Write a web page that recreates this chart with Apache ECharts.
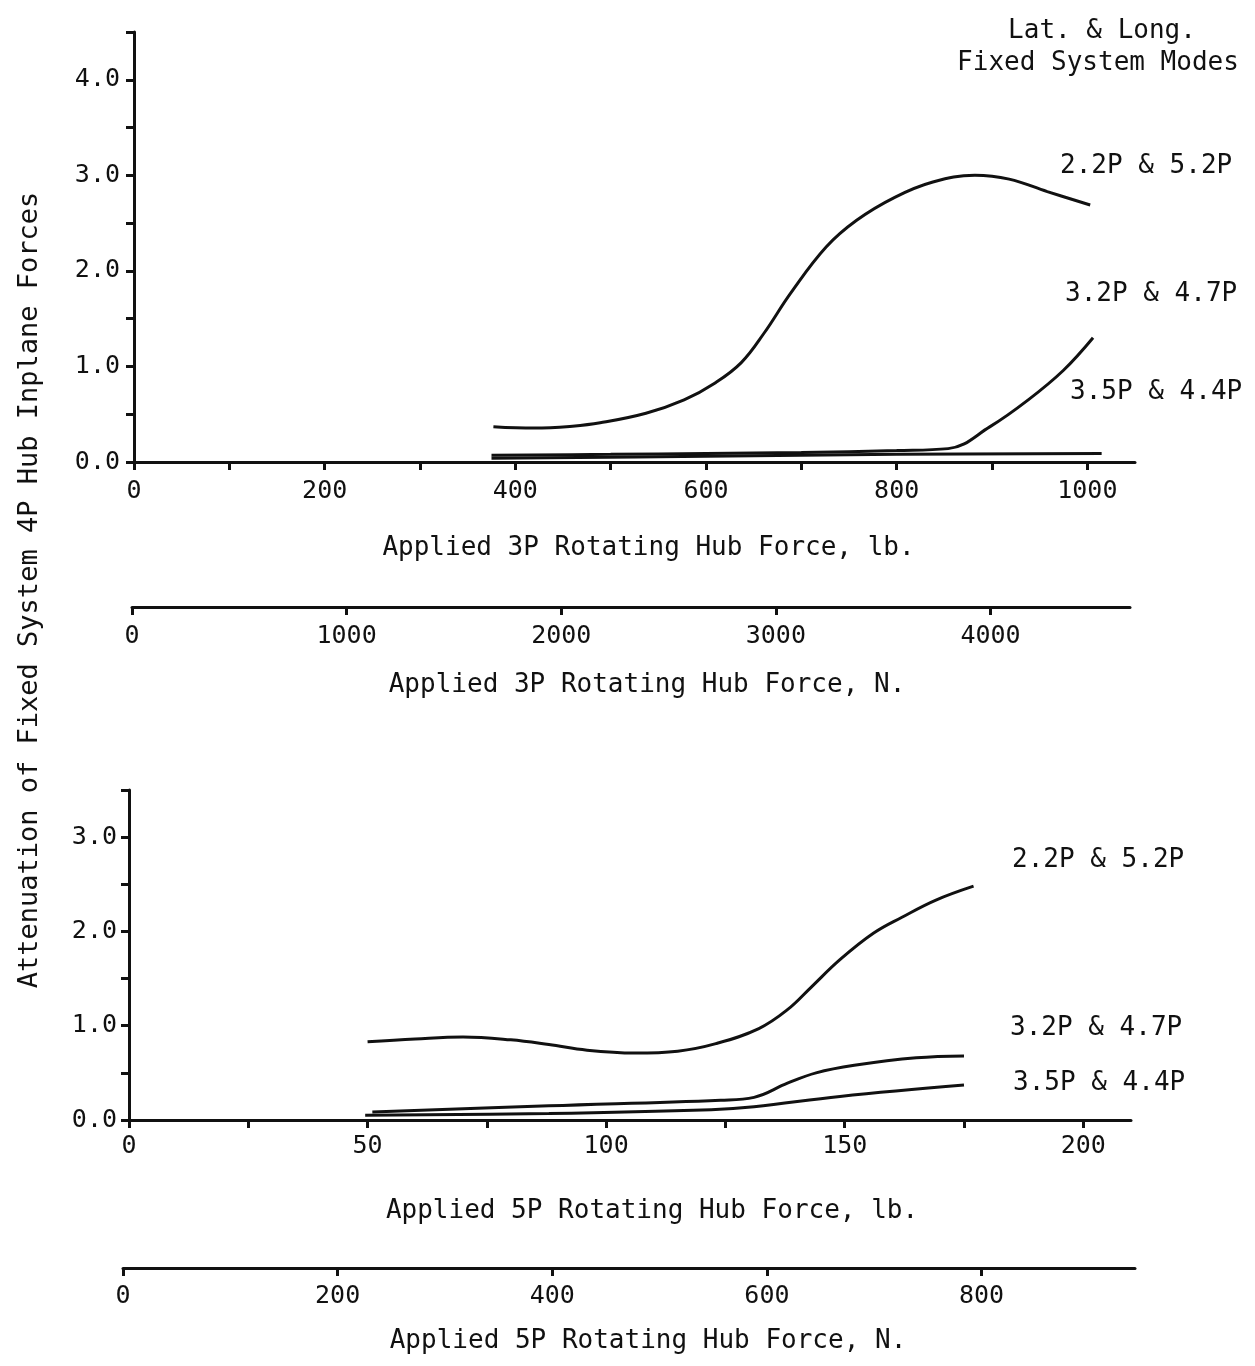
<!DOCTYPE html>
<html>
<head>
<meta charset="utf-8">
<title>Attenuation of fixed system 4P hub inplane forces</title>
<script src="https://cdn.jsdelivr.net/npm/echarts@6/dist/echarts.min.js"></script>
<style>
  html, body { margin: 0; padding: 0; background: #fff; }
  #chart { width: 1255px; height: 1366px; }
</style>
</head>
<body>
<div id="chart"></div>
<script>
// upper panel: applied 3P rotating hub force (lb) vs attenuation
var top22X = [377, 420, 460, 489, 537, 577, 610, 637, 661, 689, 726, 758, 798, 838, 882, 918, 958, 1003];
var top22Y = [0.37, 0.355, 0.375, 0.41, 0.51, 0.65, 0.83, 1.04, 1.35, 1.77, 2.25, 2.53, 2.77, 2.93, 3.00, 2.96, 2.83, 2.69];
var top32X = [375, 500, 600, 700, 800, 854, 898, 938, 975, 1006];
var top32Y = [0.07, 0.08, 0.09, 0.10, 0.12, 0.14, 0.37, 0.65, 0.96, 1.30];
var top35X = [375, 600, 800, 1015];
var top35Y = [0.04, 0.06, 0.08, 0.09];

// lower panel: applied 5P rotating hub force (lb)
var bot22X = [50, 60, 70, 80, 88, 96, 106, 115, 123, 132, 138, 143, 149, 156, 162, 169, 177];
var bot22Y = [0.83, 0.86, 0.88, 0.85, 0.80, 0.74, 0.71, 0.73, 0.81, 0.97, 1.17, 1.41, 1.70, 1.98, 2.15, 2.33, 2.48];
var bot32X = [51, 88, 124, 131, 138, 144, 152, 165, 175];
var bot32Y = [0.085, 0.15, 0.21, 0.24, 0.39, 0.50, 0.58, 0.66, 0.68];
var bot35X = [49.5, 88, 122, 131, 149, 175];
var bot35Y = [0.05, 0.07, 0.11, 0.14, 0.25, 0.37];

// ticks / labels
var topLbTicks = [0, 100, 200, 300, 400, 500, 600, 700, 800, 900, 1000];
var topLbLabels = [0, 200, 400, 600, 800, 1000];
var topNTicks = [0, 1000, 2000, 3000, 4000];
var botLbTicks = [0, 25, 50, 75, 100, 125, 150, 175, 200];
var botLbLabels = [0, 50, 100, 150, 200];
var botNTicks = [0, 200, 400, 600, 800];

var modeNames = ['2.2P & 5.2P', '3.2P & 4.7P', '3.5P & 4.4P'];

var FONT = '"DejaVu Sans Mono", monospace';
var INK = '#111';

function pairs(xs, ys) {
  return xs.map(function (x, i) { return [x, ys[i]]; });
}

function xAx(grid, max, ticks, labels, name, gap, shift, margin) {
  return {
    type: 'value',
    gridIndex: grid,
    min: 0,
    max: max,
    position: 'bottom',
    splitLine: { show: false },
    axisLine: { lineStyle: { color: INK, width: 3 } },
    axisTick: { customValues: ticks, length: 8, lineStyle: { color: INK, width: 3 } },
    axisLabel: {
      customValues: labels, margin: margin, color: INK, fontFamily: FONT, fontSize: 25,
      formatter: function (v) { return String(v); }
    },
    name: name,
    nameLocation: 'middle',
    nameGap: gap,
    nameTextStyle: { color: INK, fontFamily: FONT, fontSize: 26, padding: [0, 0, 0, shift] }
  };
}

function yAx(grid, max, margin) {
  return {
    type: 'value',
    gridIndex: grid,
    min: 0,
    max: max,
    interval: 0.5,
    splitLine: { show: false },
    axisLine: { lineStyle: { color: INK, width: 3 } },
    axisTick: { length: 8, lineStyle: { color: INK, width: 3 } },
    axisLabel: {
      margin: margin, color: INK, fontFamily: FONT, fontSize: 25,
      formatter: function (v) { return (Math.abs(v - Math.round(v)) < 1e-6 && v <= max - 0.4) ? v.toFixed(1) : ''; }
    }
  };
}

function hiddenY(grid) {
  return { type: 'value', gridIndex: grid, show: false, min: 0, max: 1 };
}

function curve(name, data, xi, yi) {
  return {
    name: name,
    type: 'line',
    xAxisIndex: xi,
    yAxisIndex: yi,
    data: data,
    smooth: 0.4,
    showSymbol: false,
    lineStyle: { color: INK, width: 3 },
    z: 3
  };
}

function label(text, x, y) {
  return {
    type: 'text', x: x, y: y,
    style: { text: text, fill: INK, font: '26px ' + FONT, textAlign: 'left', textVerticalAlign: 'middle' }
  };
}

var chart = echarts.init(document.getElementById('chart'));

var option = {
  backgroundColor: '#fff',
  animation: false,
  grid: [
    { left: 134, top: 32, width: 1001, height: 430 },
    { left: 132, top: 606, width: 998, height: 1 },
    { left: 129, top: 790, width: 1002, height: 330 },
    { left: 123, top: 1267, width: 1012, height: 1 }
  ],
  xAxis: [
    xAx(0, 1050, topLbTicks, topLbLabels, 'Applied 3P Rotating Hub Force, lb.', 73, 28, 17),
    xAx(1, 4650, topNTicks, topNTicks, 'Applied 3P Rotating Hub Force, N.', 65, 32, 17),
    xAx(2, 210, botLbTicks, botLbLabels, 'Applied 5P Rotating Hub Force, lb.', 78, 44, 14),
    xAx(3, 943, botNTicks, botNTicks, 'Applied 5P Rotating Hub Force, N.', 60, 38, 16)
  ],
  yAxis: [
    yAx(0, 4.5, 14),
    hiddenY(1),
    yAx(2, 3.5, 12),
    hiddenY(3)
  ],
  series: [
    curve(modeNames[0], pairs(top22X, top22Y), 0, 0),
    curve(modeNames[1], pairs(top32X, top32Y), 0, 0),
    curve(modeNames[2], pairs(top35X, top35Y), 0, 0),
    curve(modeNames[0], pairs(bot22X, bot22Y), 2, 2),
    curve(modeNames[1], pairs(bot32X, bot32Y), 2, 2),
    curve(modeNames[2], pairs(bot35X, bot35Y), 2, 2)
  ],
  graphic: [
    {
      type: 'text', x: 30, y: 590, rotation: Math.PI / 2,
      style: {
        text: 'Attenuation of Fixed System 4P Hub Inplane Forces',
        fill: INK, font: '27px ' + FONT, textAlign: 'center', textVerticalAlign: 'middle'
      }
    },
    {
      type: 'text', x: 1102, y: 31,
      style: { text: 'Lat. & Long.', fill: INK, font: '26px ' + FONT, textAlign: 'center', textVerticalAlign: 'middle' }
    },
    {
      type: 'text', x: 1098, y: 63,
      style: { text: 'Fixed System Modes', fill: INK, font: '26px ' + FONT, textAlign: 'center', textVerticalAlign: 'middle' }
    },
    label(modeNames[0], 1060, 166),
    label(modeNames[1], 1065, 294),
    label(modeNames[2], 1070, 392),
    label(modeNames[0], 1012, 860),
    label(modeNames[1], 1010, 1028),
    label(modeNames[2], 1013, 1083)
  ]
};

chart.setOption(option);
</script>
</body>
</html>
